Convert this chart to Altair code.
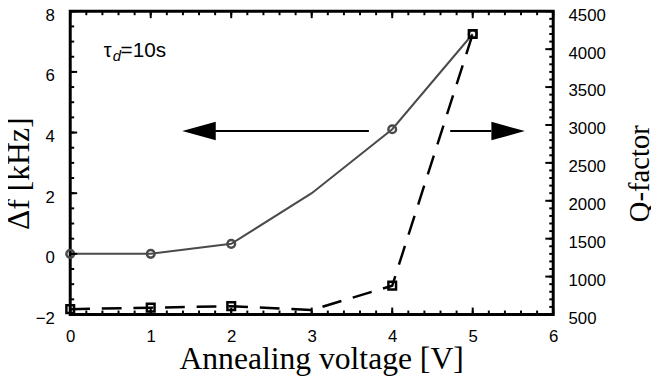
import altair as alt
import pandas as pd

# ---- data ----
voltage = [0, 1, 2, 3, 4, 5]
delta_f = [0.0, 0.0, 0.33, 2.0, 4.11, 7.25]       # kHz (left axis)
q_factor = [570, 590, 610, 560, 880, 4200]         # right axis
has_marker = [True, True, True, False, True, True]

x_major = [0, 1, 2, 3, 4, 5, 6]
x_minor = [round(i * 0.2, 1) for i in range(31)]
yl_major = [-2, 0, 2, 4, 6, 8]
yl_minor = [-2 + 0.5 * i for i in range(21)]
yr_major = [500, 1000, 1500, 2000, 2500, 3000, 3500, 4000, 4500]
yr_minor = [500 + 100 * i for i in range(41)]

arrow_y = [4.05]
left_arrow_line = [1.8, 3.71]
right_arrow_line = [4.72, 5.23]
left_head_x = [1.6]
right_head_x = [5.44]
note_x = [0.417]
note_y = [6.5]

W, H = 489, 307
SANS = "Liberation Sans"
SERIF = "Liberation Serif"

df = pd.DataFrame({"V": voltage, "df": delta_f, "Q": q_factor, "m": has_marker})

xs = alt.Scale(domain=[0, 6], nice=False, zero=False)
yls = alt.Scale(domain=[-2, 8], nice=False, zero=False)
yrs = alt.Scale(domain=[500, 4500], nice=False, zero=False)

common = dict(ticks=False, domain=False, grid=False, labelFont=SANS,
              labelFontSize=17, labelColor="black", labelFlush=False,
              labelOverlap=False, labelBound=False, titleFont=SERIF,
              titleFontWeight="normal", titleColor="black",
              titleBaseline="alphabetic", titleAlign="center", format="d")

x_axis = alt.Axis(values=x_major, labelPadding=14, titleFontSize=32,
                  title="Annealing voltage [V]", titleX=254, titleY=55,
                  titleAngle=0, **common)
yl_axis = alt.Axis(values=yl_major, labelPadding=16, labelOffset=4,
                   titleFontSize=32, title="Δf [kHz]", titleX=-42,
                   titleY=164, titleAngle=270, **common)
yr_axis = alt.Axis(orient="right", values=yr_major, labelPadding=15,
                   labelOffset=4, titleFontSize=29, title="Q-factor",
                   titleX=96, titleY=164, titleAngle=270, **common)

def XE(field):
    return alt.X(f"{field}:Q", scale=xs, axis=x_axis)

def YL(field):
    return alt.Y(f"{field}:Q", scale=yls, axis=yl_axis)

def YR(field):
    return alt.Y(f"{field}:Q", scale=yrs, axis=yr_axis)

base = alt.Chart(df)

solid = base.mark_line(color="#4a4a4a", strokeWidth=2).encode(x=XE("V"), y=YL("df"))
circles = base.transform_filter("datum.m").mark_point(
    shape="circle", filled=False, color="#4a4a4a", strokeWidth=2.5, size=60, opacity=1
).encode(x=XE("V"), y=YL("df"))

# arrows
la = pd.DataFrame({"x": left_arrow_line, "y": arrow_y * 2})
ra = pd.DataFrame({"x": right_arrow_line, "y": arrow_y * 2})
arr_l = alt.Chart(la).mark_line(color="black", strokeWidth=2).encode(x=XE("x"), y=YL("y"))
arr_r = alt.Chart(ra).mark_line(color="black", strokeWidth=2).encode(x=XE("x"), y=YL("y"))
head_l = alt.Chart(pd.DataFrame({"x": left_head_x, "y": arrow_y})).mark_point(
    shape="M -1 0 L 1 -0.55 L 1 0.55 Z", filled=True, color="black",
    size=1150, opacity=1, strokeWidth=0
).encode(x=XE("x"), y=YL("y"))
head_r = alt.Chart(pd.DataFrame({"x": right_head_x, "y": arrow_y})).mark_point(
    shape="M 1 0 L -1 -0.55 L -1 0.55 Z", filled=True, color="black",
    size=1150, opacity=1, strokeWidth=0
).encode(x=XE("x"), y=YL("y"))

note = pd.DataFrame({"x": note_x, "y": note_y})
def note_part(txt, dx, dy, size, style="normal"):
    return alt.Chart(note).mark_text(
        text=txt, align="left", baseline="alphabetic", dx=dx, dy=dy,
        font=SANS, fontSize=size, fontStyle=style, color="black"
    ).encode(x=XE("x"), y=YL("y"))
t1 = note_part("τ", 0, 0, 20)
t2 = note_part("d", 9, 4, 15, "italic")
t3 = note_part("=10s", 17, 0, 21)

def xticks(vals, at_top, length):
    d = pd.DataFrame({"x": vals})
    if at_top:
        yy, yy2 = alt.value(0), alt.value(length)
    else:
        yy, yy2 = alt.value(H), alt.value(H - length)
    return alt.Chart(d).mark_rule(color="black", strokeWidth=2).encode(
        x=XE("x"), y=yy, y2=yy2)

def yticks(vals, enc, at_right, length):
    d = pd.DataFrame({"v": vals})
    if at_right:
        xx, xx2 = alt.value(W), alt.value(W - length)
    else:
        xx, xx2 = alt.value(0), alt.value(length)
    return alt.Chart(d).mark_rule(color="black", strokeWidth=2).encode(
        y=enc("v"), x=xx, x2=xx2)

left_layer = alt.layer(
    solid, circles, arr_l, arr_r, head_l, head_r, t1, t2, t3,
    xticks(x_minor, False, 4), xticks(x_major, False, 7),
    xticks(x_minor, True, 4), xticks(x_major, True, 7),
    yticks(yl_minor, YL, False, 4), yticks(yl_major, YL, False, 7),
)

dashed = base.mark_line(color="black", strokeWidth=2.5, strokeDash=[20, 12]).encode(
    x=XE("V"), y=YR("Q"))
squares = base.transform_filter("datum.m").mark_point(
    shape="square", filled=False, color="black", strokeWidth=2.5, size=60, opacity=1
).encode(x=XE("V"), y=YR("Q"))

right_layer = alt.layer(
    dashed, squares,
    yticks(yr_minor, YR, True, 4), yticks(yr_major, YR, True, 8),
)

chart = alt.layer(left_layer, right_layer).resolve_scale(
    y="independent"
).resolve_axis(y="independent").properties(
    width=W, height=H,
    autosize=alt.AutoSizeParams(type="none"),
    padding={"left": 63, "top": 1, "right": 99, "bottom": 62},
).configure_view(stroke="black", strokeWidth=3)

chart.save("out.html", embed_options={"renderer": "svg", "actions": False})
